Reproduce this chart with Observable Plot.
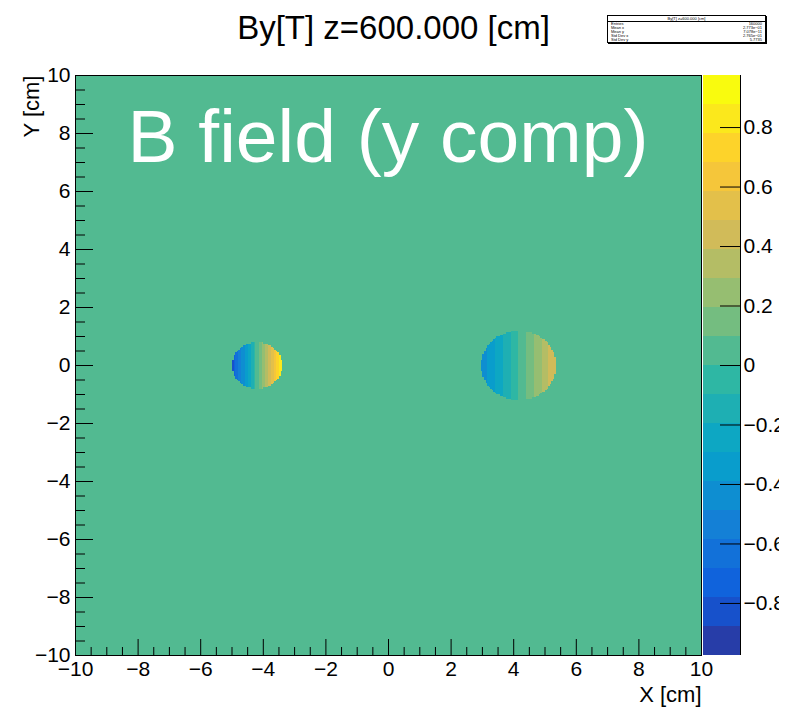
<!DOCTYPE html>
<html><head><meta charset="utf-8">
<script src="https://cdn.jsdelivr.net/npm/d3@7"></script>
<script src="https://cdn.jsdelivr.net/npm/@observablehq/plot@0.6"></script>
<style>
body{margin:0;background:#fff;font-family:"Liberation Sans",Arial,Helvetica,sans-serif;}
#wrap{position:relative;width:795px;height:707px;overflow:hidden;background:#fff;}
#wrap svg{position:absolute;}
#stats{position:absolute;left:607px;top:15px;width:157px;height:26px;border:1px solid #000;box-shadow:1px 1px 0 #000;background:#fff;font-size:4px;line-height:4px;color:#000;}
#stats .hd{text-align:center;border-bottom:1px solid #000;height:5px;line-height:5px;}
#stats .row{display:flex;justify-content:space-between;padding:0 3px;}
</style></head><body><div id="wrap"><div id="stats"></div></div>
<script>
// ---- data ----
const titleText = "By[T] z=600.000 [cm]";
const annotationText = "B field (y comp)";
const xTitle = "X [cm]";
const yTitle = "Y [cm]";
// two magnets (circular field regions), By = centerField + gradient*(x - cx) inside radius
const magnetX = [-4.2, 4.16];
const magnetY = [0, 0];
const magnetR = [0.8, 1.2];
const magnetGradient = [1.05, 0.40];
const magnetCenterField = [0.03, 0.005];
// axis ticks
const xTicks = [-10, -8, -6, -4, -2, 0, 2, 4, 6, 8, 10];
const yTicks = [-10, -8, -6, -4, -2, 0, 2, 4, 6, 8, 10];
const paletteTicks = [-0.8, -0.6, -0.4, -0.2, 0, 0.2, 0.4, 0.6, 0.8];
// colour palette: z range and 20 contour levels
const zRange = [-0.975, 0.975];
const zThresholds = [-0.8775, -0.78, -0.6825, -0.585, -0.4875, -0.39, -0.2925, -0.195, -0.0975, 0,
  0.0975, 0.195, 0.2925, 0.39, 0.4875, 0.585, 0.6825, 0.78, 0.8775];
const statsRows = [["Entries", "160000"], ["Mean x", "2.773e\u221201"], ["Mean y", "7.078e\u221211"],
  ["Std Dev x", "2.765e\u221201"], ["Std Dev y", "5.7735"]];

// ---- ROOT kBird palette (style) ----
const birdStops = [0, .125, .25, .375, .5, .625, .75, .875, 1];
const birdR = [0.2082, 0.0592, 0.0780, 0.0232, 0.1802, 0.5301, 0.8186, 0.9956, 0.9764];
const birdG = [0.1664, 0.3599, 0.5041, 0.6419, 0.7178, 0.7492, 0.7328, 0.7862, 0.9832];
const birdB = [0.5293, 0.8684, 0.8385, 0.7914, 0.6425, 0.4662, 0.3499, 0.1968, 0.0539];
function bird(f) {
  let k = 0; while (k < birdStops.length - 2 && f > birdStops[k + 1]) k++;
  const t = (f - birdStops[k]) / (birdStops[k + 1] - birdStops[k]);
  const c = a => Math.round(255 * (a[k] + t * (a[k + 1] - a[k])));
  return d3.rgb(c(birdR), c(birdG), c(birdB)).formatHex();
}
const nLevels = zThresholds.length + 1;
const paletteColors = d3.range(nLevels).map(i => bird(Math.floor((i + 0.99) * 255 / nLevels) / 254));
const colorOpts = {type: "threshold", domain: zThresholds, range: paletteColors};

function By(x, y) {
  for (let i = 0; i < magnetX.length; i++) {
    const dx = x - magnetX[i], dy = y - magnetY[i];
    if (dx * dx + dy * dy <= magnetR[i] * magnetR[i]) return magnetCenterField[i] + magnetGradient[i] * dx;
  }
  return 0;
}
const xMinor = d3.range(-10, 10.001, 0.5).filter(v => !xTicks.includes(v));
const yMinor = d3.range(-10, 10.001, 0.5).filter(v => !yTicks.includes(v));
const font = '"Liberation Sans", Arial, Helvetica, sans-serif';
const fmt = d => (d < 0 ? "\u2212" : "") + String(Math.abs(d));
const noLabel = () => "";

const main = Plot.plot({
  width: 795, height: 707,
  marginLeft: 75, marginRight: 94, marginTop: 75, marginBottom: 52,
  x: {domain: [-10, 10]}, y: {domain: [-10, 10]},
  color: colorOpts,
  style: {fontFamily: font, color: "#000", background: "transparent", overflow: "visible"},
  marks: [
    Plot.raster({fill: By, x1: -10, x2: 10, y1: -10, y2: 10, width: 400, height: 400, imageRendering: "pixelated"}),
    Plot.frame({stroke: "#000"}),
    // inward ticks (drawn from the bottom/left frame edge into the frame)
    Plot.axisX(xTicks, {anchor: "top", frameAnchor: "bottom", tickSize: 17, tickFormat: noLabel, label: null}),
    Plot.axisX(xMinor, {anchor: "top", frameAnchor: "bottom", tickSize: 9, tickFormat: noLabel, label: null}),
    Plot.axisY(yTicks, {anchor: "right", frameAnchor: "left", tickSize: 17, tickFormat: noLabel, label: null}),
    Plot.axisY(yMinor, {anchor: "right", frameAnchor: "left", tickSize: 9, tickFormat: noLabel, label: null}),
    // tick labels
    Plot.axisX(xTicks, {anchor: "bottom", tickSize: 0, tickPadding: 6, fontSize: 21, tickFormat: fmt, label: null}),
    Plot.axisY(yTicks, {anchor: "left", tickSize: 0, tickPadding: 5, fontSize: 21, tickFormat: fmt, label: null}),
    Plot.text([annotationText], {frameAnchor: "top-left", dx: 52, dy: 86, textAnchor: "start", lineAnchor: "bottom", fontSize: 75, fill: "#fff"}),
    Plot.text([titleText], {frameAnchor: "top", dx: 5, dy: -37, textAnchor: "middle", lineAnchor: "bottom", fontSize: 33, fill: "#000"}),
    Plot.text([xTitle], {frameAnchor: "bottom-right", dx: 0, dy: 46, textAnchor: "end", lineAnchor: "bottom", fontSize: 22, fill: "#000"}),
    Plot.text([yTitle], {frameAnchor: "top-left", dx: -37, dy: 0, rotate: -90, textAnchor: "end", lineAnchor: "bottom", fontSize: 22, fill: "#000"})
  ]
});
main.style.left = "0px"; main.style.top = "0px";

const edges = [zRange[0], ...zThresholds, zRange[1]];
const bands = paletteColors.map((c, i) => ({lo: edges[i], hi: edges[i + 1], mid: (edges[i] + edges[i + 1]) / 2}));
const pal = Plot.plot({
  width: 76, height: 590,
  marginLeft: 0, marginRight: 39, marginTop: 10, marginBottom: 0,
  x: {domain: [0, 1]}, y: {domain: zRange},
  color: colorOpts,
  style: {fontFamily: font, color: "#000", background: "transparent", overflow: "hidden"},
  marks: [
    Plot.rect(bands, {x1: 0, x2: 1, y1: "lo", y2: "hi", fill: "mid"}),
    Plot.ruleX([1], {stroke: "#000"}),
    Plot.axisY(paletteTicks, {anchor: "left", frameAnchor: "right", tickSize: 20, tickFormat: noLabel, label: null}),
    Plot.axisY(paletteTicks, {anchor: "right", tickSize: 0, tickPadding: 3, fontSize: 21, tickFormat: fmt, label: null})
  ]
});
pal.style.left = "703px"; pal.style.top = "65px";

const wrap = document.getElementById("wrap");
wrap.insertBefore(pal, wrap.firstChild);
wrap.insertBefore(main, wrap.firstChild);

const stats = document.getElementById("stats");
stats.innerHTML = `<div class="hd">${titleText}</div>` +
  statsRows.map(r => `<div class="row"><span>${r[0]}</span><span>${r[1]}</span></div>`).join("");
</script></body></html>
